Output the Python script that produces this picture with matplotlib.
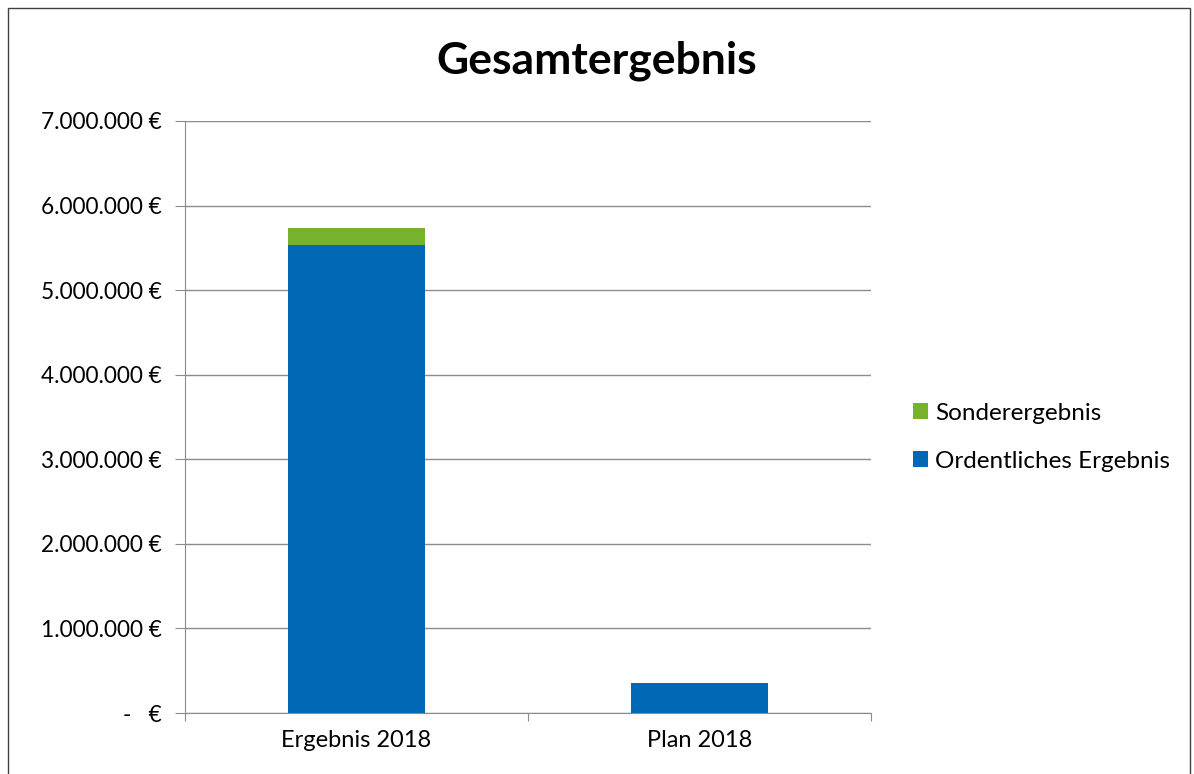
import matplotlib.pyplot as plt
from matplotlib.patches import Rectangle
from matplotlib.ticker import FuncFormatter

plt.rcParams['font.family'] = ['Lato', 'DejaVu Sans']

categories = ['Ergebnis 2018', 'Plan 2018']
ordentlich = [5534000, 355000]
sonder = [200000, 0]

fig = plt.figure(figsize=(11.94, 7.74), dpi=100)
ax = fig.add_axes([0.155, 0.0788, 0.5745, 0.7649])

x = [0, 1]
b1 = ax.bar(x, ordentlich, width=0.4, color='#0068B4', label='Ordentliches Ergebnis', zorder=3)
b2 = ax.bar(x, sonder, width=0.4, bottom=ordentlich, color='#77B22C', label='Sonderergebnis', zorder=3)

ax.set_xlim(-0.5, 1.5)
ax.set_ylim(0, 7000000)
ax.set_yticks(range(0, 7000001, 1000000))

def euro(v, pos):
    if v == 0:
        return '-   €'
    return '{:,.0f} €'.format(v).replace(',', '.')

ax.yaxis.set_major_formatter(FuncFormatter(euro))
ax.grid(axis='y', color='#8c8c8c', linewidth=1, zorder=0)

ax.set_xticks([-0.5, 0.5, 1.5])
ax.set_xticklabels([])
ax.set_xticks(x, minor=True)
ax.set_xticklabels(categories, minor=True)
ax.tick_params(axis='x', which='minor', length=0, pad=12, labelsize=17)
ax.tick_params(axis='x', which='major', length=6, color='#8c8c8c')
ax.tick_params(axis='y', length=7, color='#8c8c8c', labelsize=16.3, pad=10)

for s in ['top', 'right']:
    ax.spines[s].set_visible(False)
for s in ['left', 'bottom']:
    ax.spines[s].set_color('#8c8c8c')

fig.text(0.5, 0.922, 'Gesamtergebnis', ha='center', va='center', fontsize=32, fontweight='bold')

ax.legend(handles=[b2, b1], loc='center left', bbox_to_anchor=(1.03, 0.466), frameon=False,
          fontsize=17.5, handlelength=0.6, handleheight=0.6, handletextpad=0.3, labelspacing=1.12)

fig.patches.append(Rectangle((0.007, -0.01), 0.99, 1.0, transform=fig.transFigure,
                             fill=False, edgecolor='#404040', linewidth=1))

fig.savefig('out.png', dpi=100)
